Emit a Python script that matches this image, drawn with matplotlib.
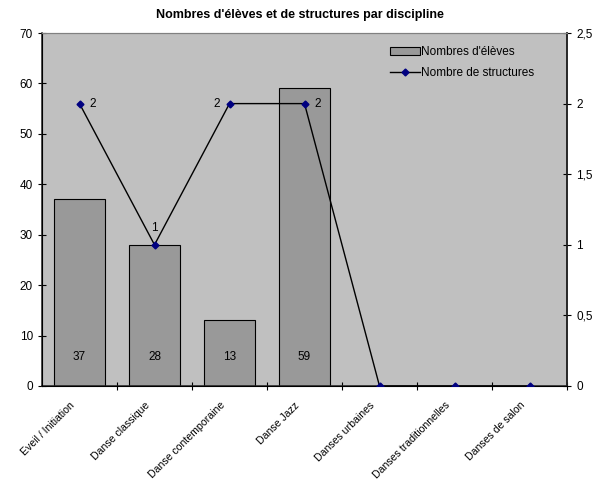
import matplotlib.pyplot as plt
import numpy as np
from matplotlib.ticker import FuncFormatter

plt.rcParams['font.family'] = ['Liberation Sans', 'DejaVu Sans']

categories = ["Eveil / Initiation", "Danse classique", "Danse contemporaine",
              "Danse Jazz", "Danses urbaines", "Danses traditionnelles",
              "Danses de salon"]
eleves = [37, 28, 13, 59, 0, 0, 0]
structures = [2, 1, 2, 2, 0, 0, 0]

fig = plt.figure(figsize=(5.99, 4.84), dpi=100)
ax = fig.add_axes([42/599, 1-386/484, (567-42)/599, (386-33)/484])
ax.set_facecolor('#C0C0C0')
x = np.arange(len(categories))

# bars
ax.bar(x, eleves, width=0.667, color='#999999', edgecolor='black',
       linewidth=0.8, label="Nombres d'élèves", zorder=2)
for xi, v in zip(x, eleves):
    if v > 0:
        ax.text(xi, 5.7, str(v), ha='center', va='center', fontsize=8.5, zorder=3)

ax.set_xlim(-0.5, len(categories) - 0.5)
ax.set_ylim(0, 70)
ax.set_yticks(range(0, 71, 10))
ax.set_xticks(x + 0.5)
ax.set_xticklabels([])
# category labels, rotated
for xi, name in zip(x, categories):
    ax.annotate(name, (xi, 0), xycoords=('data', 'axes fraction'),
                xytext=(-10, -14), textcoords='offset pixels',
                rotation=45, ha='right', va='top', rotation_mode='anchor',
                fontsize=7.6, annotation_clip=False)
ax.tick_params(axis='x', length=6, direction='inout')
ax.tick_params(axis='y', labelsize=8.5, length=6, direction='inout')
for s in ['left', 'bottom', 'right']:
    ax.spines[s].set_color('#222222')
    ax.spines[s].set_linewidth(1.1)
ax.spines['top'].set_color('#808080')

# secondary axis
ax2 = ax.twinx()
ax2.plot(x, structures, color='black', linewidth=1, marker='D', markersize=3.5,
         markerfacecolor='#000080', markeredgecolor='#000080',
         label='Nombre de structures', zorder=4)
ax2.set_ylim(0, 2.5)
ax2.set_yticks(np.arange(0, 2.51, 0.5))
ax2.yaxis.set_major_formatter(FuncFormatter(
    lambda v, p: ('%g' % v).replace('.', ',')))
ax2.tick_params(axis='y', labelsize=8.5, length=6, direction='inout')
ax2.spines['right'].set_color('#222222')
ax2.spines['right'].set_linewidth(1.1)
ax2.spines['top'].set_color('#808080')

# line labels (Excel-like placement)
offsets = [(7, 0, 'left'), (0, 12, 'center'), (-7, 0, 'right'), (7, 0, 'left')]
for i, (dx, dy, ha) in enumerate(offsets):
    ax2.annotate(str(structures[i]), (x[i], structures[i]),
                 xytext=(dx, dy), textcoords='offset points',
                 ha=ha, va='center', fontsize=8.5)

h1, l1 = ax.get_legend_handles_labels()
h2, l2 = ax2.get_legend_handles_labels()
ax.legend(h1 + h2, l1 + l2, loc='upper left',
          bbox_to_anchor=((390-42)/525, (386-46)/353),
          frameon=False, fontsize=8.5, handlelength=2.5, handletextpad=0.1,
          labelspacing=0.75, borderpad=0, borderaxespad=0)

fig.suptitle("Nombres d'élèves et de structures par discipline", fontsize=9,
             fontweight='bold', y=1-15/484, va='center')

fig.savefig('out.png', dpi=100)
